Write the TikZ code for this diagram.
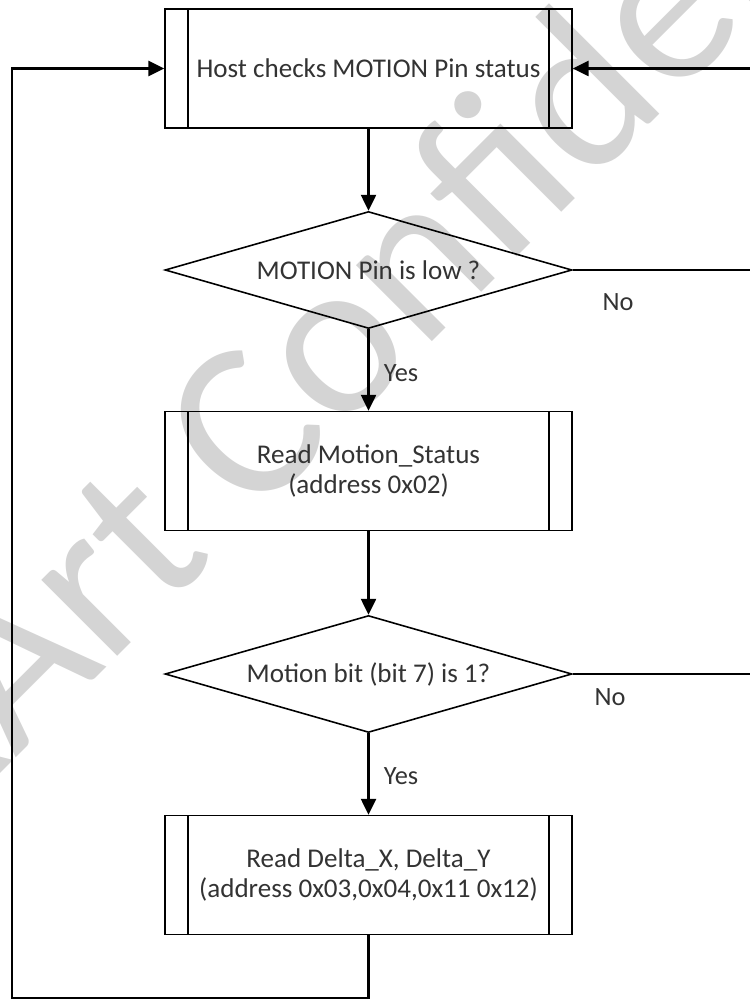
\documentclass[tikz,border=0pt]{standalone}
\usepackage{fontspec}
\setmainfont{Carlito}
\usepackage{tikz}
\usetikzlibrary{positioning, arrows.meta, shapes.geometric}

\begin{document}
\begin{tikzpicture}[
  x = .02cm,
  y = -.02cm,
  process/.style = {
    rectangle,
    draw,
    line width = .9pt,
    minimum width = 8.14cm,
    minimum height = 2.38cm,
    align = center,
    text = black!80,
    font = \fontsize{15.4}{17.5}\selectfont,
    path picture = {
      \draw[line width = .9pt]
        ([xshift=.46cm]path picture bounding box.north west)
        -- ([xshift=.46cm]path picture bounding box.south west);
      \draw[line width = .9pt]
        ([xshift=-.46cm]path picture bounding box.north east)
        -- ([xshift=-.46cm]path picture bounding box.south east);
    }
  },
  decision/.style = {
    diamond,
    draw,
    line width = .9pt,
    aspect = 3.5,
    inner sep = 0pt,
    minimum width = 8.14cm,
    minimum height = 2.34cm,
    text = black!80,
    font = \fontsize{15.4}{17.5}\selectfont
  },
  connection/.style = {
    -{Triangle[length=9pt, width=8.5pt]},
    line width = 1.3pt
  },
  wire/.style = {
    line width = 1.3pt
  },
  answer/.style = {
    text = black!80,
    font = \fontsize{15}{17}\selectfont
  },
  watermark/.style = {
    text = black!17,
    font = \fontsize{128}{128}\selectfont,
    inner sep = 0pt
  },
  ]
  \useasboundingbox (0, 0) rectangle (750, 1000);
  \clip (0, 0) rectangle (750, 1000);

  % Watermark behind the chart.
  \node[watermark, anchor=base west, rotate=45] (wm) at (-172, 946)
    {PixArt Confidential};

  % Steps and decisions.
  \node[process] (host) at (368.5, 68.5) {Host checks MOTION Pin status};
  \node[decision] (pin) at (368.5, 270) {MOTION Pin is low ?};
  \node[process] (status) at (368.5, 471) {Read Motion\_Status\\(address 0x02)};
  \node[decision] (bit) at (368.5, 674) {Motion bit (bit 7) is 1?};
  \node[process] (delta) at (368.5, 875)
    {Read Delta\_X, Delta\_Y\\(address 0x03,0x04,0x11 0x12)};

  % Answers.
  \node[answer] (yes1) at (401, 373) {Yes};
  \node[answer] (no1) at (618, 302) {No};
  \node[answer] (yes2) at (401, 776) {Yes};
  \node[answer] (no2) at (610, 697) {No};

  % Return rails, outside the frame on the right and at the far left.
  \coordinate (rail) at (765, 0);
  \coordinate (loop) at (12, 998);

  % Main flow.
  \draw[connection] (host) -- (pin);
  \draw[connection] (pin) -- (status);
  \draw[connection] (status) -- (bit);
  \draw[connection] (bit) -- (delta);

  % "No" branches back to the top.
  \draw[wire] (pin.east) -- (pin.east -| rail);
  \draw[wire] (bit.east) -- (bit.east -| rail) -- (rail |- host.east);
  \draw[connection] (rail |- host.east) -- (host.east);

  % Loop back after reading the deltas.
  \draw[connection] (delta.south) |- (loop) |- (host.west);
\end{tikzpicture}
\end{document}
